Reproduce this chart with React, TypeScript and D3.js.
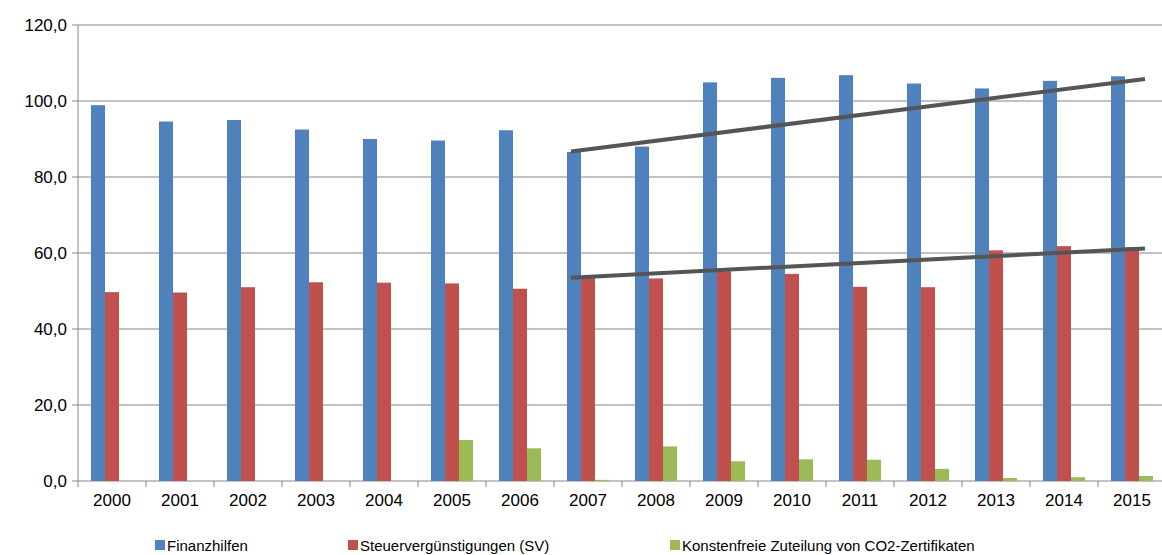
import React from 'react';
import * as d3 from 'd3';

const years = ['2000','2001','2002','2003','2004','2005','2006','2007','2008','2009','2010','2011','2012','2013','2014','2015'];
const finanzhilfen = [98.9, 94.6, 95.0, 92.5, 90.0, 89.6, 92.3, 86.6, 88.0, 104.9, 106.1, 106.8, 104.6, 103.3, 105.3, 106.5];
const steuer = [49.7, 49.6, 51.0, 52.3, 52.2, 52.0, 50.6, 53.5, 53.3, 55.2, 54.5, 51.1, 51.0, 60.7, 61.8, 61.5];
const co2 = [0, 0, 0, 0, 0, 10.8, 8.6, 0.3, 9.1, 5.2, 5.7, 5.6, 3.2, 0.8, 1.0, 1.3];
const series = [
  { name: 'Finanzhilfen', values: finanzhilfen, color: '#4F81BD' },
  { name: 'Steuervergünstigungen (SV)', values: steuer, color: '#C0504D' },
  { name: 'Konstenfreie Zuteilung von CO2-Zertifikaten', values: co2, color: '#9BBB59' },
];
const trends = [
  { from: '2007', to: '2015', v0: 86.7, v1: 105.8 },
  { from: '2007', to: '2015', v0: 53.5, v1: 61.2 },
];
const yTicks = [0, 20, 40, 60, 80, 100, 120];

export default function App() {
  const W = 1162, H = 555;
  const left = 78, right = 1166, top = 25, bottom = 481;
  const x = d3.scaleBand().domain(years).range([left, right]);
  const y = d3.scaleLinear().domain([0, 120]).range([bottom, top]);
  const bw = 14;
  const fmt = (v: number) => v.toFixed(1).replace('.', ',');
  const font = '"Liberation Sans", Arial, sans-serif';
  const legendX = [155, 348, 670];
  return (
    <svg width={W} height={H} style={{ position: 'absolute', left: 0, top: 0, background: '#fff' }} fontFamily={font}>
      {yTicks.map(t => (
        <g key={t}>
          <line x1={left} x2={right} y1={y(t)} y2={y(t)} stroke="#868686" strokeWidth={1} />
          <line x1={left - 6} x2={left} y1={y(t)} y2={y(t)} stroke="#868686" />
          <text x={left - 11} y={y(t) + 6} textAnchor="end" fontSize={17} fill="#000">{fmt(t)}</text>
        </g>
      ))}
      <line x1={left} x2={left} y1={top} y2={bottom} stroke="#868686" />
      {years.map(yr => (
        <g key={yr}>
          <line x1={x(yr)!} x2={x(yr)!} y1={bottom} y2={bottom + 6} stroke="#868686" />
          <text x={x(yr)! + x.bandwidth() / 2} y={bottom + 25} textAnchor="middle" fontSize={17}>{yr}</text>
        </g>
      ))}
      {series.map((s, si) => s.values.map((v, i) => {
        const cx = x(years[i])! + x.bandwidth() / 2;
        return <rect key={si + '-' + i} x={cx - 1.5 * bw + si * bw} y={y(v)} width={bw} height={y(0) - y(v)} fill={s.color} />;
      }))}
      {trends.map((t, i) => (
        <line key={i} x1={x(t.from)! + x.bandwidth() / 2 - 1.5 * bw + 4} x2={x(t.to)! + x.bandwidth() / 2 + 13}
          y1={y(t.v0)} y2={y(t.v1)} stroke="#555" strokeWidth={4} />
      ))}
      {series.map((s, i) => (
        <g key={s.name}>
          <rect x={legendX[i]} y={540} width={10} height={10} fill={s.color} />
          <text x={legendX[i] + 12} y={551} fontSize={15}>{s.name}</text>
        </g>
      ))}
    </svg>
  );
}
